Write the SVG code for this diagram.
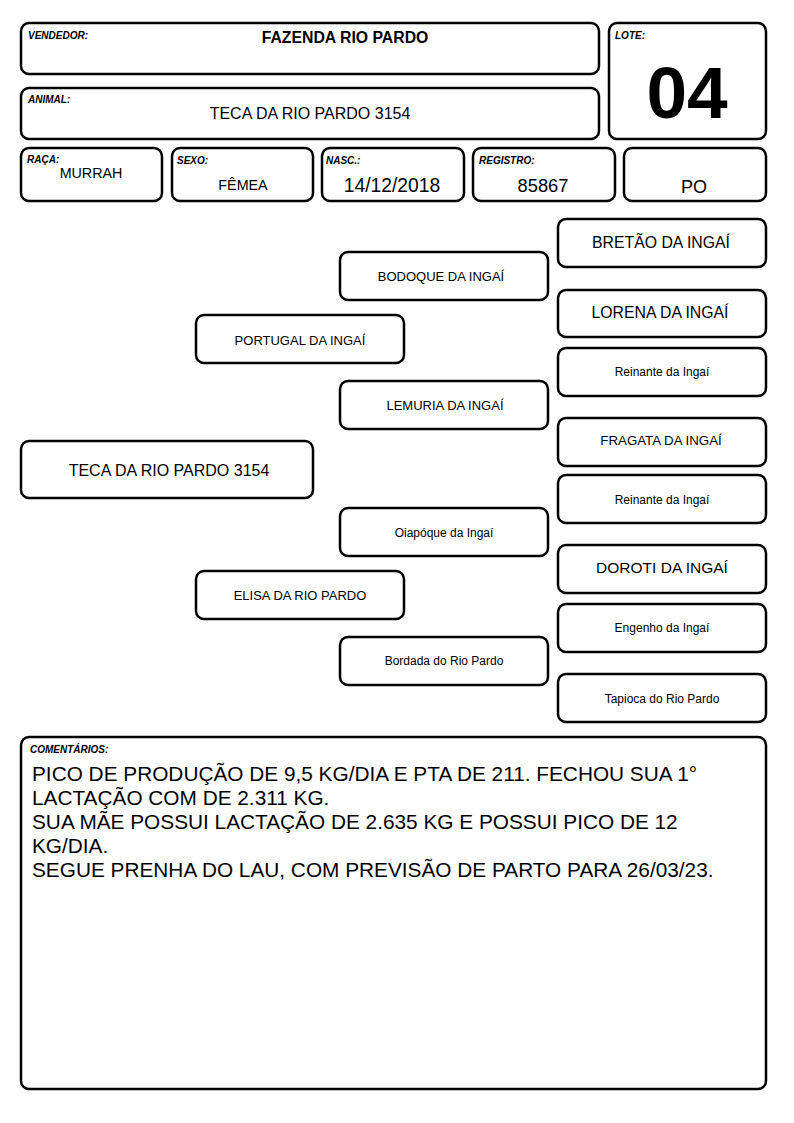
<svg xmlns="http://www.w3.org/2000/svg" width="794" height="1123" viewBox="0 0 794 1123">
<style>
.b{fill:#fff;stroke:#000;stroke-width:2.5}
.lbl{font-family:"Liberation Sans",Arial,sans-serif;font-size:10px;font-weight:bold;font-style:italic;fill:#000}
.t{font-family:"Liberation Sans",Arial,sans-serif;fill:#000;text-anchor:middle}
.c{font-family:"Liberation Sans",Arial,sans-serif;font-size:20.8px;fill:#000}
</style>
<rect width="794" height="1123" fill="#fff"/>
<g id="vendedor"><rect class="b" x="21" y="23" width="578" height="51" rx="8"/><text class="lbl" x="28" y="39">VENDEDOR:</text><text class="t" x="345" y="43" font-size="15.8" font-weight="bold">FAZENDA RIO PARDO</text></g>
<g id="animal"><rect class="b" x="21" y="88" width="578" height="51" rx="8"/><text class="lbl" x="28" y="103">ANIMAL:</text><text class="t" x="310" y="119" font-size="16">TECA DA RIO PARDO 3154</text></g>
<g id="lote"><rect class="b" x="609" y="23" width="157" height="116" rx="8"/><text class="lbl" x="615" y="39">LOTE:</text><text class="t" x="687" y="118" font-size="73" font-weight="bold">04</text></g>
<g id="raca"><rect class="b" x="21" y="148" width="141" height="53" rx="8"/><text class="lbl" x="27" y="163">RAÇA:</text><text class="t" x="91" y="178" font-size="14.3">MURRAH</text></g>
<g id="sexo"><rect class="b" x="172" y="148" width="141" height="53" rx="8"/><text class="lbl" x="177" y="164">SEXO:</text><text class="t" x="243" y="190" font-size="14.3">FÊMEA</text></g>
<g id="nasc"><rect class="b" x="322" y="148" width="142" height="53" rx="8"/><text class="lbl" x="326" y="164">NASC.:</text><text class="t" x="392" y="192" font-size="19.3">14/12/2018</text></g>
<g id="registro"><rect class="b" x="473" y="148" width="142" height="53" rx="8"/><text class="lbl" x="479" y="164">REGISTRO:</text><text class="t" x="543" y="192" font-size="18.3">85867</text></g>
<g id="po"><rect class="b" x="624" y="148" width="142" height="53" rx="8"/><text class="t" x="694" y="193" font-size="18">PO</text></g>
<g id="p-teca"><rect class="b" x="21" y="441" width="292" height="57" rx="8"/><text class="t" x="169" y="476" font-size="16">TECA DA RIO PARDO 3154</text></g>
<g id="p-portugal"><rect class="b" x="196" y="315" width="208" height="48" rx="8"/><text class="t" x="300" y="345" font-size="13">PORTUGAL DA INGAÍ</text></g>
<g id="p-elisa"><rect class="b" x="196" y="571" width="208" height="48" rx="8"/><text class="t" x="300" y="600" font-size="13">ELISA DA RIO PARDO</text></g>
<g id="p-bodoque"><rect class="b" x="340" y="252" width="208" height="48" rx="8"/><text class="t" x="441" y="281" font-size="13">BODOQUE DA INGAÍ</text></g>
<g id="p-lemuria"><rect class="b" x="340" y="381" width="208" height="48" rx="8"/><text class="t" x="445" y="410" font-size="13">LEMURIA DA INGAÍ</text></g>
<g id="p-oiapoque"><rect class="b" x="340" y="508" width="208" height="48" rx="8"/><text class="t" x="444" y="537" font-size="12">Oiapóque da Ingaí</text></g>
<g id="p-bordada"><rect class="b" x="340" y="637" width="208" height="48" rx="8"/><text class="t" x="444" y="665" font-size="12">Bordada do Rio Pardo</text></g>
<g id="p-bretao"><rect class="b" x="558" y="219" width="208" height="48" rx="8"/><text class="t" x="661" y="248" font-size="15.8">BRETÃO DA INGAÍ</text></g>
<g id="p-lorena"><rect class="b" x="558" y="290" width="208" height="47" rx="8"/><text class="t" x="660" y="318" font-size="15.8">LORENA DA INGAÍ</text></g>
<g id="p-reinante1"><rect class="b" x="558" y="348" width="208" height="48" rx="8"/><text class="t" x="662" y="376" font-size="12">Reinante da Ingaí</text></g>
<g id="p-fragata"><rect class="b" x="558" y="418" width="208" height="48" rx="8"/><text class="t" x="661" y="445" font-size="13.3">FRAGATA DA INGAÍ</text></g>
<g id="p-reinante2"><rect class="b" x="558" y="475" width="208" height="48" rx="8"/><text class="t" x="662" y="504" font-size="12">Reinante da Ingaí</text></g>
<g id="p-doroti"><rect class="b" x="558" y="545" width="208" height="48" rx="8"/><text class="t" x="662" y="573" font-size="15.5">DOROTI DA INGAÍ</text></g>
<g id="p-engenho"><rect class="b" x="558" y="604" width="208" height="48" rx="8"/><text class="t" x="662" y="632" font-size="12">Engenho da Ingaí</text></g>
<g id="p-tapioca"><rect class="b" x="558" y="674" width="208" height="48" rx="8"/><text class="t" x="662" y="703" font-size="12">Tapioca do Rio Pardo</text></g>
<g id="comentarios"><rect class="b" x="21" y="737" width="745" height="352" rx="8"/><text class="lbl" x="30" y="753">COMENTÁRIOS:</text>
<text class="c" x="32" y="781">PICO DE PRODUÇÃO DE 9,5 KG/DIA E PTA DE 211. FECHOU SUA 1°</text>
<text class="c" x="32" y="805">LACTAÇÃO COM DE 2.311 KG.</text>
<text class="c" x="32" y="829">SUA MÃE POSSUI LACTAÇÃO DE 2.635 KG E POSSUI PICO DE 12</text>
<text class="c" x="32" y="853">KG/DIA.</text>
<text class="c" x="32" y="877">SEGUE PRENHA DO LAU, COM PREVISÃO DE PARTO PARA 26/03/23.</text>
</g>
<g id="connectors"></g>
</svg>
